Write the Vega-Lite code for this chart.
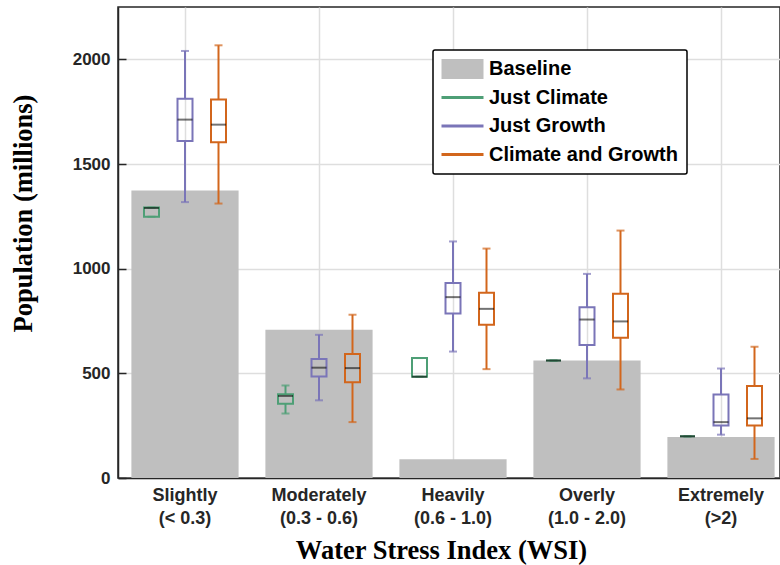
{
  "$schema": "https://vega.github.io/schema/vega-lite/v6.json",
  "autosize": "none",
  "width": 662,
  "height": 471,
  "padding": {"left": 118, "top": 7, "right": 0, "bottom": 87},
  "background": "white",
  "config": {
    "view": {"stroke": "#262626", "strokeWidth": 1.5},
    "axis": {
      "domainColor": "#262626", "domainWidth": 1.5,
      "gridColor": "#dedede", "gridWidth": 1.5,
      "tickColor": "#262626", "tickWidth": 1.5,
      "labelFont": "Liberation Sans", "labelFontWeight": "bold", "labelColor": "#262626",
      "titleFont": "Liberation Serif", "titleFontWeight": "bold", "titleColor": "#000000", "titleFontSize": 26.5
    }
  },
  "datasets": {
    "baseline": [
      {"category": "Slightly|(< 0.3)", "series": "Baseline", "value": 1373},
      {"category": "Moderately|(0.3 - 0.6)", "series": "Baseline", "value": 708},
      {"category": "Heavily|(0.6 - 1.0)", "series": "Baseline", "value": 90},
      {"category": "Overly|(1.0 - 2.0)", "series": "Baseline", "value": 561},
      {"category": "Extremely|(>2)", "series": "Baseline", "value": 196}
    ],
    "boxes": [
      {"category": "Slightly|(< 0.3)", "scenario": "Just Climate", "min": 1248, "q1": 1248, "median": 1290, "q3": 1292, "max": 1292},
      {"category": "Slightly|(< 0.3)", "scenario": "Just Growth", "min": 1318, "q1": 1610, "median": 1712, "q3": 1812, "max": 2040},
      {"category": "Slightly|(< 0.3)", "scenario": "Climate and Growth", "min": 1311, "q1": 1604, "median": 1688, "q3": 1808, "max": 2067},
      {"category": "Moderately|(0.3 - 0.6)", "scenario": "Just Climate", "min": 308, "q1": 355, "median": 392, "q3": 400, "max": 442},
      {"category": "Moderately|(0.3 - 0.6)", "scenario": "Just Growth", "min": 371, "q1": 485, "median": 527, "q3": 568, "max": 684},
      {"category": "Moderately|(0.3 - 0.6)", "scenario": "Climate and Growth", "min": 267, "q1": 457, "median": 525, "q3": 592, "max": 780},
      {"category": "Heavily|(0.6 - 1.0)", "scenario": "Just Climate", "min": 484, "q1": 484, "median": 484, "q3": 573, "max": 573},
      {"category": "Heavily|(0.6 - 1.0)", "scenario": "Just Growth", "min": 604, "q1": 786, "median": 864, "q3": 931, "max": 1130},
      {"category": "Heavily|(0.6 - 1.0)", "scenario": "Climate and Growth", "min": 520, "q1": 732, "median": 808, "q3": 885, "max": 1096},
      {"category": "Overly|(1.0 - 2.0)", "scenario": "Just Climate", "min": 561, "q1": 561, "median": 561, "q3": 561, "max": 561},
      {"category": "Overly|(1.0 - 2.0)", "scenario": "Just Growth", "min": 476, "q1": 635, "median": 757, "q3": 816, "max": 975},
      {"category": "Overly|(1.0 - 2.0)", "scenario": "Climate and Growth", "min": 423, "q1": 670, "median": 748, "q3": 880, "max": 1182},
      {"category": "Extremely|(>2)", "scenario": "Just Climate", "min": 199, "q1": 199, "median": 199, "q3": 199, "max": 199},
      {"category": "Extremely|(>2)", "scenario": "Just Growth", "min": 207, "q1": 251, "median": 267, "q3": 399, "max": 523},
      {"category": "Extremely|(>2)", "scenario": "Climate and Growth", "min": 91, "q1": 251, "median": 285, "q3": 439, "max": 627}
    ]
  },
  "encoding": {
    "x": {
      "field": "category", "type": "nominal", "sort": null,
      "scale": {"paddingInner": 0, "paddingOuter": 0, "range": [0, 670]},
      "axis": {
        "title": "Water Stress Index (WSI)",
        "titleX": 323, "titleY": 80, "titleBaseline": "alphabetic",
        "labelExpr": "split(datum.label, '|')",
        "labelFontSize": 18, "labelLineHeight": 23, "labelAngle": 0,
        "labelPadding": 8, "tickSize": 0,
        "grid": true, "bandPosition": 0.5, "domain": true
      }
    }
  },
  "layer": [
    {
      "data": {"name": "baseline"},
      "mark": {"type": "bar", "width": {"band": 0.8}},
      "encoding": {
        "y": {
          "field": "value", "type": "quantitative",
          "scale": {"domain": [0, 2250], "nice": false, "zero": true},
          "axis": {
            "title": "Population (millions)",
            "values": [0, 500, 1000, 1500, 2000], "format": "d",
            "labelFontSize": 17, "labelPadding": 16, "tickSize": -8,
            "titleX": -87, "titleY": 206, "titleBaseline": "alphabetic", "titleAngle": -90,
            "grid": true
          }
        },
        "color": {
          "field": "series", "type": "nominal",
          "scale": {
            "domain": ["Baseline", "Just Climate", "Just Growth", "Climate and Growth"],
            "range": ["#bfbfbf", "#4e9f76", "#7a75b8", "#d2661c"]
          },
          "legend": {
            "title": null, "orient": "none", "legendX": 315, "legendY": 43,
            "padding": 9, "cornerRadius": 2, "fillColor": "white", "strokeColor": "#000000",
            "labelFont": "Liberation Sans", "labelFontWeight": "bold", "labelFontSize": 20, "labelColor": "#000000",
            "labelLimit": 400,
            "symbolSize": 441, "labelOffset": 27, "rowPadding": 8.5,
            "encode": {
              "legend": {"update": {"strokeWidth": {"value": 1.5}}},
              "symbols": {"update": {
                "shape": {"signal": "datum.value === 'Baseline' ? 'M-1,-0.95H3V0.95H-1Z' : 'M-1,0H3'"},
                "fill": {"signal": "datum.value === 'Baseline' ? '#bfbfbf' : 'transparent'"},
                "stroke": {"signal": "datum.value === 'Just Climate' ? '#4e9f76' : datum.value === 'Just Growth' ? '#7a75b8' : datum.value === 'Climate and Growth' ? '#d2661c' : 'transparent'"},
                "strokeWidth": {"signal": "datum.value === 'Baseline' ? 0 : 3"},
                "opacity": {"value": 1}
              }}
            }
          }
        }
      }
    },
    {
      "data": {"name": "boxes"},
      "mark": {"type": "rule", "strokeWidth": 2},
      "encoding": {
        "xOffset": {"field": "scenario", "type": "nominal", "sort": ["Just Climate", "Just Growth", "Climate and Growth"], "scale": {"paddingInner": 0, "paddingOuter": 0.5}},
        "y": {"field": "min", "type": "quantitative"},
        "y2": {"field": "q1"},
        "color": {"field": "scenario", "type": "nominal"}
      }
    },
    {
      "data": {"name": "boxes"},
      "mark": {"type": "rule", "strokeWidth": 2},
      "encoding": {
        "xOffset": {"field": "scenario", "type": "nominal", "sort": ["Just Climate", "Just Growth", "Climate and Growth"], "scale": {"paddingInner": 0, "paddingOuter": 0.5}},
        "y": {"field": "q3", "type": "quantitative"},
        "y2": {"field": "max"},
        "color": {"field": "scenario", "type": "nominal"}
      }
    },
    {
      "data": {"name": "boxes"},
      "mark": {"type": "tick", "size": 8, "thickness": 2, "orient": "horizontal"},
      "encoding": {
        "xOffset": {"field": "scenario", "type": "nominal", "sort": ["Just Climate", "Just Growth", "Climate and Growth"], "scale": {"paddingInner": 0, "paddingOuter": 0.5}},
        "y": {"field": "min", "type": "quantitative"},
        "color": {"field": "scenario", "type": "nominal"}
      }
    },
    {
      "data": {"name": "boxes"},
      "mark": {"type": "tick", "size": 8, "thickness": 2, "orient": "horizontal"},
      "encoding": {
        "xOffset": {"field": "scenario", "type": "nominal", "sort": ["Just Climate", "Just Growth", "Climate and Growth"], "scale": {"paddingInner": 0, "paddingOuter": 0.5}},
        "y": {"field": "max", "type": "quantitative"},
        "color": {"field": "scenario", "type": "nominal"}
      }
    },
    {
      "data": {"name": "boxes"},
      "mark": {"type": "bar", "width": 15, "filled": false, "strokeWidth": 2},
      "encoding": {
        "xOffset": {"field": "scenario", "type": "nominal", "sort": ["Just Climate", "Just Growth", "Climate and Growth"], "scale": {"paddingInner": 0, "paddingOuter": 0.5}},
        "y": {"field": "q1", "type": "quantitative"},
        "y2": {"field": "q3"},
        "color": {"field": "scenario", "type": "nominal"}
      }
    },
    {
      "data": {"name": "boxes"},
      "mark": {"type": "tick", "size": 15, "thickness": 2, "orient": "horizontal", "color": "#000000", "opacity": 0.55},
      "encoding": {
        "xOffset": {"field": "scenario", "type": "nominal", "sort": ["Just Climate", "Just Growth", "Climate and Growth"], "scale": {"paddingInner": 0, "paddingOuter": 0.5}},
        "y": {"field": "median", "type": "quantitative"}
      }
    }
  ]
}
